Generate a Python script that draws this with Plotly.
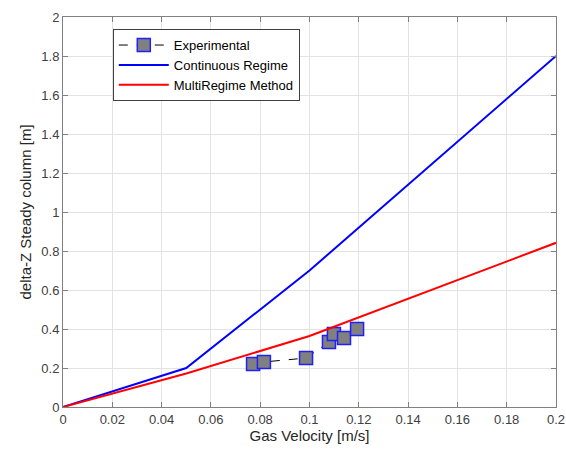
import plotly.graph_objects as go

exp_x = [0.0771, 0.0815, 0.0986, 0.1079, 0.1099, 0.1140, 0.1193]
exp_y = [0.220, 0.231, 0.251, 0.333, 0.374, 0.354, 0.400]

cont_x = [0, 0.05, 0.1, 0.2]
cont_y = [0, 0.20, 0.70, 1.80]

multi_x = [0, 0.05, 0.1, 0.2]
multi_y = [0, 0.172, 0.364, 0.842]

x_ticks = [0, 0.02, 0.04, 0.06, 0.08, 0.1, 0.12, 0.14, 0.16, 0.18, 0.2]
x_tick_labels = ["0", "0.02", "0.04", "0.06", "0.08", "0.1", "0.12", "0.14", "0.16", "0.18", "0.2"]
y_ticks = [0, 0.2, 0.4, 0.6, 0.8, 1, 1.2, 1.4, 1.6, 1.8, 2]
y_tick_labels = ["0", "0.2", "0.4", "0.6", "0.8", "1", "1.2", "1.4", "1.6", "1.8", "2"]

FONT = "Liberation Sans, Arial"

fig = go.Figure()
fig.add_trace(go.Scatter(
    x=exp_x, y=exp_y, mode="lines+markers", name="Experimental",
    line=dict(color="black", width=1, dash="dash"),
    marker=dict(symbol="square", size=13, color="#808080",
                line=dict(color="#1f1fff", width=1.5)),
))
fig.add_trace(go.Scatter(
    x=cont_x, y=cont_y, mode="lines", name="Continuous Regime",
    line=dict(color="#0000ff", width=2),
))
fig.add_trace(go.Scatter(
    x=multi_x, y=multi_y, mode="lines", name="MultiRegime Method",
    line=dict(color="#ff0000", width=2),
))

axis_common = dict(
    showgrid=True, gridcolor="#e3e3e3", gridwidth=1,
    showline=True, linecolor="#808080", linewidth=1, mirror="allticks",
    ticks="inside", ticklen=5, tickcolor="#808080",
    zeroline=False, automargin=False,
    tickfont=dict(family=FONT, size=13, color="#404040"),
)

fig.update_xaxes(
    range=[0, 0.2], tickvals=x_ticks, ticktext=x_tick_labels,
    title=dict(text="Gas Velocity [m/s]", font=dict(family=FONT, size=15, color="#262626"), standoff=4),
    **axis_common,
)
fig.update_yaxes(
    range=[0, 2], tickvals=y_ticks, ticktext=y_tick_labels,
    title=dict(text="delta-Z Steady column [m]", font=dict(family=FONT, size=15, color="#262626"), standoff=6),
    **axis_common,
)

fig.update_layout(
    width=566, height=453,
    margin=dict(l=63, r=10, t=17, b=46),
    paper_bgcolor="white", plot_bgcolor="white",
    font=dict(family=FONT, size=13, color="#262626"),
    legend=dict(
        x=0.101, y=0.969, xanchor="left", yanchor="top",
        bgcolor="white", bordercolor="#404040", borderwidth=1,
        font=dict(family=FONT, size=13, color="#000000"),
        tracegroupgap=0, itemwidth=50,
    ),
)

fig.write_html("out.html")
